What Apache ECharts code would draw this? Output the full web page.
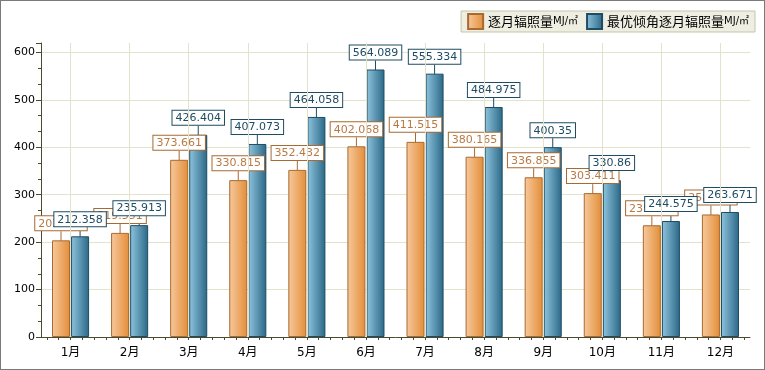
<!DOCTYPE html>
<html><head><meta charset="utf-8">
<script src="https://cdn.jsdelivr.net/npm/echarts@6/dist/echarts.min.js"></script>
<style>html,body{margin:0;padding:0;background:#fff}#c{width:763px;height:368px;border:1px solid #7a7a7a}</style>
</head><body><div id="c"></div>
<script>
var categories = ['1月','2月','3月','4月','5月','6月','7月','8月','9月','10月','11月','12月'];
var monthly = [203.846, 219.551, 373.661, 330.815, 352.432, 402.068, 411.515, 380.165, 336.855, 303.411, 235.612, 258.402];
var optimal = [212.358, 235.913, 426.404, 407.073, 464.058, 564.089, 555.334, 484.975, 400.35, 330.86, 244.575, 263.671];
var seriesNames = ['逐月辐照量MJ/㎡', '最优倾角逐月辐照量MJ/㎡'];
var subTicksPerMonth = 5;

var font = "'DejaVu Sans', 'Noto Sans CJK SC', sans-serif";
var cjk = "'Noto Sans CJK SC', 'DejaVu Sans', sans-serif";
var chart = echarts.init(document.getElementById('c'));
function grad(a, b) {
  return new echarts.graphic.LinearGradient(0, 0, 1, 0, [{offset: 0, color: a}, {offset: 1, color: b}]);
}
function barSeries(name, data, c1, c2, border, txt) {
  return {
    name: name, type: 'bar', data: data, barWidth: 18, barGap: '6%', z: 3,
    xAxisIndex: 0,
    itemStyle: {color: grad(c1, c2), borderColor: border, borderWidth: 1},
    label: {
      show: true, position: 'top', distance: 0,
      formatter: function (p) { return p.value; },
      color: txt, fontFamily: font, fontSize: 11,
      backgroundColor: '#fff', borderColor: border, borderWidth: 1, padding: [2, 3, 1, 3]
    },
    labelLayout: {dy: -10},
    labelLine: {show: true, lineStyle: {color: border, width: 1}},
    emphasis: {disabled: true}
  };
}
var subCats = [];
for (var i = 0; i < categories.length * subTicksPerMonth; i++) subCats.push('s' + i);
chart.setOption({
  animation: false,
  textStyle: {fontFamily: font},
  grid: {left: 40, right: 14, top: 42, bottom: 32},
  legend: {
    data: seriesNames, right: 9, top: 10, icon: 'rect',
    itemWidth: 15, itemHeight: 15, itemGap: 8,
    backgroundColor: '#eeeee2', borderColor: '#c4c4ac', borderWidth: 1, borderRadius: 0,
    padding: [2, 6, 2, 6],
    formatter: function (n) { return '{a|' + n.replace('MJ/㎡', '') + '}{b|MJ/㎡}'; },
    textStyle: {rich: {a: {fontSize: 13, fontFamily: cjk, color: '#000'}, b: {fontSize: 10, fontFamily: font, color: '#000'}}}
  },
  xAxis: [{
    type: 'category', data: categories,
    axisLine: {lineStyle: {color: '#4a4a30'}},
    axisTick: {alignWithLabel: true, length: 6, lineStyle: {color: '#4a4a30'}},
    axisLabel: {color: '#000', fontSize: 12, margin: 10},
    splitLine: {show: false}
  }, {
    type: 'category', data: subCats, position: 'bottom', offset: 0,
    axisLine: {show: true, lineStyle: {color: 'rgba(0,0,0,0)'}},
    axisTick: {show: true, alignWithLabel: true, length: 3, interval: 0, lineStyle: {color: '#4a4a30'}},
    axisLabel: {show: true, color: 'rgba(0,0,0,0)', interval: 0, fontSize: 1},
    splitLine: {show: false}
  }],
  yAxis: {
    type: 'value', min: 0, max: 620, interval: 100,
    axisLine: {show: true, lineStyle: {color: '#4a4a30'}},
    axisTick: {show: true, length: 5, lineStyle: {color: '#4a4a30'}},
    minorTick: {show: true, splitNumber: 3, length: 3, lineStyle: {color: '#4a4a30'}},
    axisLabel: {color: '#000', fontSize: 11, showMaxLabel: false, margin: 6},
    splitLine: {show: true, lineStyle: {color: ['rgba(0,0,0,0)', '#e3e3cc', '#e3e3cc', '#e3e3cc', '#e3e3cc', '#e3e3cc', '#e3e3cc']}}
  },
  series: [
    {
      name: 'grid', type: 'line', data: [], z: 1, silent: true, xAxisIndex: 0,
      markLine: {
        silent: true, symbol: 'none', label: {show: false},
        lineStyle: {color: '#e3e3cc', type: 'solid', width: 1},
        data: categories.map(function (c) { return {xAxis: c}; })
      }
    },
    {name: 'ticks', type: 'line', data: [], xAxisIndex: 1, silent: true},
    barSeries(seriesNames[0], monthly, '#f7c99e', '#e38e38', '#a86a30', '#b87a45'),
    barSeries(seriesNames[1], optimal, '#8fc4de', '#2a6886', '#1e4c63', '#1e4c63')
  ]
});
</script></body></html>
